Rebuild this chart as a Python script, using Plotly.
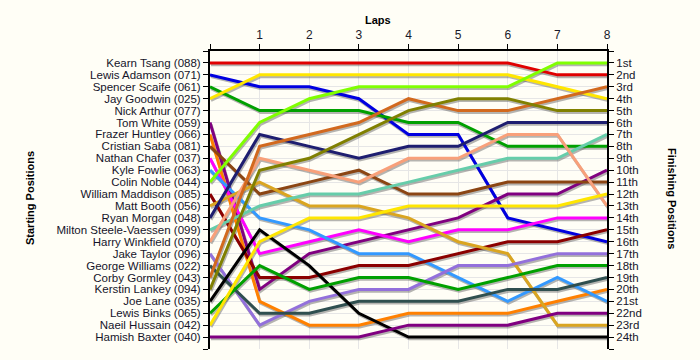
import plotly.graph_objects as go

laps = [0, 1, 2, 3, 4, 5, 6, 7, 8]

drivers = ["Kearn Tsang (088)", "Lewis Adamson (071)", "Spencer Scaife (061)", "Jay Goodwin (025)",
           "Nick Arthur (077)", "Tom White (059)", "Frazer Huntley (066)", "Cristian Saba (081)",
           "Nathan Chafer (037)", "Kyle Fowlie (063)", "Colin Noble (044)", "William Maddison (085)",
           "Matt Booth (056)", "Ryan Morgan (048)", "Milton Steele-Vaessen (099)", "Harry Winkfield (070)",
           "Jake Taylor (096)", "George Williams (022)", "Corby Gormley (043)", "Kerstin Lankey (094)",
           "Joe Lane (035)", "Lewis Binks (065)", "Naeil Hussain (042)", "Hamish Baxter (040)"]

finish_labels = ["1st", "2nd", "3rd", "4th", "5th", "6th", "7th", "8th", "9th", "10th", "11th", "12th",
                 "13th", "14th", "15th", "16th", "17th", "18th", "19th", "20th", "21st", "22nd", "23rd", "24th"]

kearn_tsang = [1, 1, 1, 1, 1, 1, 1, 2, 2]
lewis_adamson = [2, 3, 3, 4, 7, 7, 14, 15, 16]
spencer_scaife = [3, 5, 5, 5, 6, 6, 8, 8, 8]
jay_goodwin = [4, 2, 2, 2, 2, 2, 2, 3, 4]
tom_white = [6, 20, 17, 16, 15, 14, 12, 12, 10]
frazer_huntley = [7, 21, 23, 23, 22, 22, 22, 21, 20]
cristian_saba = [8, 12, 11, 10, 12, 12, 11, 11, 11]
nathan_chafer = [9, 17, 16, 15, 16, 15, 15, 14, 14]
kyle_fowlie = [10, 14, 15, 17, 17, 19, 21, 19, 21]
colin_noble = [11, 6, 4, 3, 3, 3, 3, 1, 1]
william_maddison = [12, 19, 19, 18, 18, 17, 16, 16, 15]
matt_booth = [13, 11, 13, 13, 14, 16, 17, 23, 23]
ryan_morgan = [14, 7, 8, 9, 8, 8, 6, 6, 6]
milton_steele_vaessen = [15, 13, 12, 12, 11, 10, 9, 9, 7]
harry_winkfield = [16, 9, 10, 11, 9, 9, 7, 7, 13]
jake_taylor = [17, 23, 21, 20, 20, 18, 18, 17, 17]
george_williams = [18, 22, 22, 21, 21, 21, 20, 20, 19]
corby_gormley = [19, 8, 7, 6, 4, 5, 5, 4, 3]
kerstin_lankey = [20, 10, 9, 7, 5, 4, 4, 5, 5]
joe_lane = [21, 15, 18, 22, 24, 24, 24, 24, 24]
lewis_binks = [22, 18, 20, 19, 19, 20, 19, 18, 18]
naeil_hussain = [23, 16, 14, 14, 13, 13, 13, 13, 12]
hamish_baxter = [24, 24, 24, 24, 23, 23, 23, 22, 22]

series = [
    ("Kearn Tsang (088)", kearn_tsang, "#E00000"),
    ("Lewis Adamson (071)", lewis_adamson, "#0000E0"),
    ("Spencer Scaife (061)", spencer_scaife, "#00A000"),
    ("Jay Goodwin (025)", jay_goodwin, "#FFE600"),
    ("Tom White (059)", tom_white, "#800080"),
    ("Frazer Huntley (066)", frazer_huntley, "#FF8000"),
    ("Cristian Saba (081)", cristian_saba, "#8B4513"),
    ("Nathan Chafer (037)", nathan_chafer, "#FF00FF"),
    ("Kyle Fowlie (063)", kyle_fowlie, "#3399FF"),
    ("Colin Noble (044)", colin_noble, "#80FF00"),
    ("William Maddison (085)", william_maddison, "#8B0000"),
    ("Matt Booth (056)", matt_booth, "#DAA520"),
    ("Ryan Morgan (048)", ryan_morgan, "#1E1E70"),
    ("Milton Steele-Vaessen (099)", milton_steele_vaessen, "#66CDAA"),
    ("Harry Winkfield (070)", harry_winkfield, "#F8A07A"),
    ("Jake Taylor (096)", jake_taylor, "#9370DB"),
    ("George Williams (022)", george_williams, "#2F4F4F"),
    ("Corby Gormley (043)", corby_gormley, "#D2691E"),
    ("Kerstin Lankey (094)", kerstin_lankey, "#808000"),
    ("Joe Lane (035)", joe_lane, "#000000"),
    ("Lewis Binks (065)", lewis_binks, "#00A000"),
    ("Naeil Hussain (042)", naeil_hussain, "#FFE600"),
    ("Hamish Baxter (040)", hamish_baxter, "#800080"),
]

fig = go.Figure()

# shadows
for name, vals, col in series:
    fig.add_trace(go.Scatter(x=[l + 0.02 for l in laps], y=[v + 0.15 for v in vals], mode="lines",
                             line=dict(color="rgba(90,90,90,0.45)", width=3), hoverinfo="skip",
                             showlegend=False, yaxis="y"))
for name, vals, col in series:
    fig.add_trace(go.Scatter(x=laps, y=vals, mode="lines", name=name,
                             line=dict(color=col, width=3), showlegend=False, yaxis="y2"))

font = "Liberation Sans, Arial, sans-serif"
pos_ticks = list(range(0, 26))
left_text = [""] + drivers + [""]
right_text = [""] + finish_labels + [""]

L, R, T, B = 210, 93, 51, 11
W, H = 700, 360
pw = W - L - R
ph = H - T - B


def px_x(px):
    return (px - L) / pw


def px_y(py):
    return (H - B - py) / ph


fig.update_layout(
    width=W, height=H,
    margin=dict(l=L, r=R, t=T, b=B, autoexpand=False),
    paper_bgcolor="#FFFEF6", plot_bgcolor="#FFFEF6",
    font=dict(family=font, size=11, color="#1a1a2a"),
    xaxis=dict(side="top", range=[0, 8], tickvals=laps, ticktext=[""] + [str(l) for l in laps[1:]],
               showgrid=True, gridcolor="#E6E6E6", gridwidth=1, zeroline=False,
               showline=True, linecolor="black", linewidth=2, ticks="outside", ticklen=5,
               tickcolor="black", tickfont=dict(size=12, color="#1a1a2a")),
    yaxis=dict(range=[25, 0], tickvals=pos_ticks, ticktext=left_text, showgrid=True,
               gridcolor="#E6E6E6", zeroline=False, showline=True, linecolor="black", linewidth=2,
               ticks="outside", ticklen=5, tickcolor="black", tickfont=dict(size=11.5, color="#15152a")),
    yaxis2=dict(range=[25, 0], overlaying="y", side="right", tickvals=pos_ticks, ticktext=right_text,
                showgrid=False, zeroline=False, showline=True, linecolor="black", linewidth=2,
                ticks="outside", ticklen=5, tickcolor="black", tickfont=dict(size=11.5, color="#15152a")),
    annotations=[
        dict(text="<b>Laps</b>", x=px_x(378), xref="paper", y=px_y(20), yref="paper", showarrow=False,
             xanchor="center", yanchor="middle", font=dict(size=11, color="black")),
        dict(text="<b>Starting Positions</b>", x=px_x(30), xref="paper", y=px_y(198), yref="paper",
             showarrow=False, textangle=-90, xanchor="center", yanchor="middle",
             font=dict(size=11, color="black")),
        dict(text="<b>Finishing Positions</b>", x=px_x(672), xref="paper", y=px_y(198), yref="paper",
             showarrow=False, textangle=90, xanchor="center", yanchor="middle",
             font=dict(size=11, color="black")),
    ],
)

fig.write_html("out.html", config={"displayModeBar": False},
               post_script="document.body.style.margin='0';document.body.style.padding='0';")
